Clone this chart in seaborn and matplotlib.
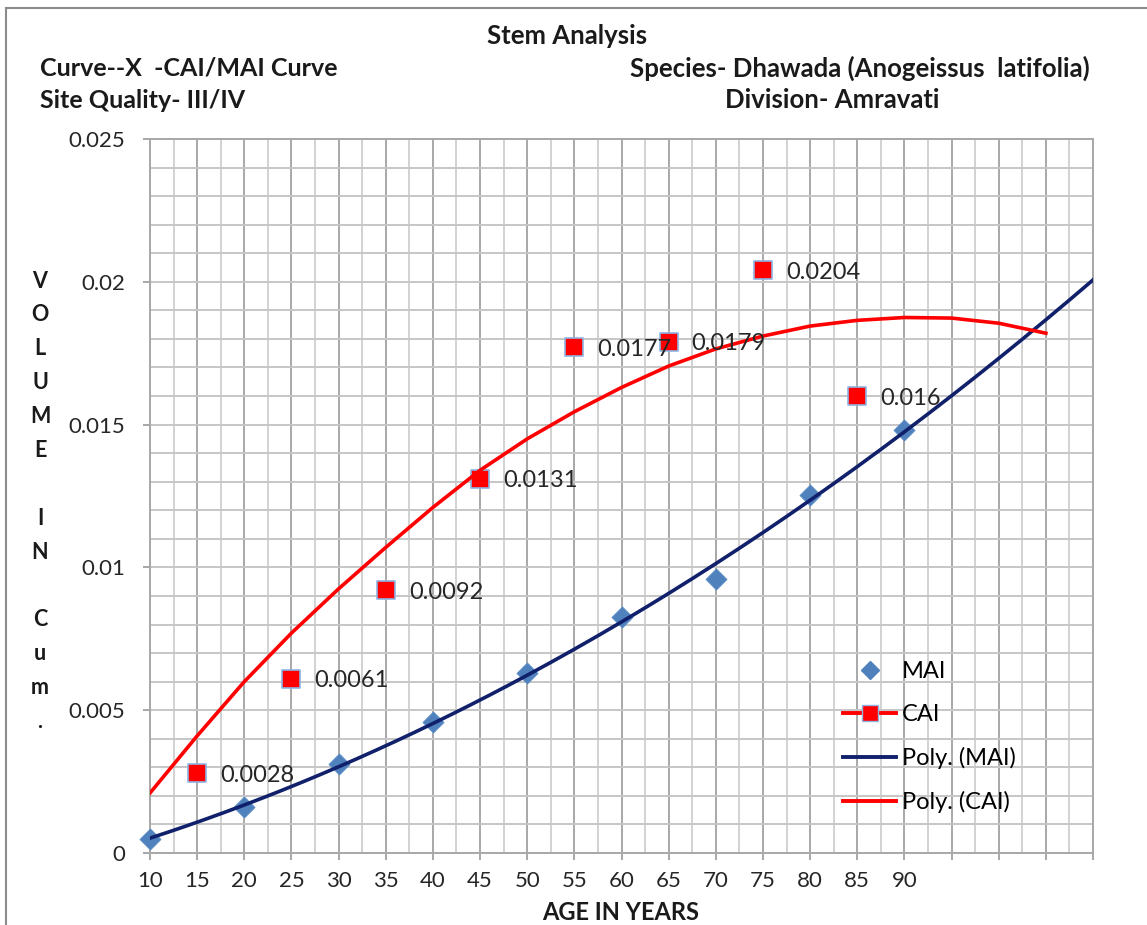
import numpy as np
import matplotlib
matplotlib.use('Agg')
import matplotlib.pyplot as plt
import seaborn as sns
from matplotlib.lines import Line2D

plt.rcParams['font.family'] = ['Lato', 'DejaVu Sans']

# values
mai_age = [10, 20, 30, 40, 50, 60, 70, 80, 90]
mai_vol = [0.0005, 0.0016, 0.0031, 0.0046, 0.0063, 0.00825, 0.0096, 0.01255, 0.0148]

cai_age = [15, 25, 35, 45, 55, 65, 75, 85]
cai_vol = [0.0028, 0.0061, 0.0092, 0.0131, 0.0177, 0.0179, 0.0204, 0.016]
cai_text = ['0.0028', '0.0061', '0.0092', '0.0131', '0.0177', '0.0179', '0.0204', '0.016']

# Poly. (CAI) trend line as drawn in the original, read every 5 years
cai_trend_age = [10, 15, 20, 25, 30, 35, 40, 45, 50, 55, 60, 65, 70, 75, 80, 85, 90, 95, 100, 105]
cai_trend_vol = [0.0021, 0.0041, 0.0060, 0.0077, 0.00925, 0.0107, 0.0121, 0.0134, 0.0145, 0.01545,
                 0.0163, 0.01705, 0.01765, 0.0181, 0.01845, 0.01865, 0.01875, 0.01873, 0.01855, 0.0182]

age_ticks = list(range(10, 115, 5))
age_labels = [str(a) if a <= 90 else '' for a in age_ticks]
vol_ticks = [0, 0.005, 0.01, 0.015, 0.02, 0.025]
vol_labels = ['0', '0.005', '0.01', '0.015', '0.02', '0.025']

W, H = 1147, 925
def fx(x):
    return x / W
def fy(y):
    return 1 - y / H

fig = plt.figure(figsize=(W / 100, H / 100), dpi=100)
ax = fig.add_axes([fx(150), fy(853), fx(1093) - fx(150), fy(139) - fy(853)])

# MAI polynomial trend (order 2, extended to the axis end)
coef = np.polyfit(mai_age, mai_vol, 2)
mai_fit_x = np.linspace(10, 110, 201)
mai_fit_y = np.polyval(coef, mai_fit_x)

navy = '#10206b'
red = '#ff0000'
blue = '#4f81bd'

sns.scatterplot(x=mai_age, y=mai_vol, marker='D', s=115, color=blue, edgecolor='#5b8cc6',
                linewidth=0.6, ax=ax, zorder=3, legend=False, clip_on=False)
sns.scatterplot(x=cai_age, y=cai_vol, marker='s', s=155, color=red, edgecolor='#8db4e2',
                linewidth=1.2, ax=ax, zorder=3, legend=False)
sns.lineplot(x=mai_fit_x, y=mai_fit_y, color=navy, lw=2.6, ax=ax, zorder=4)
sns.lineplot(x=cai_trend_age, y=cai_trend_vol, color=red, lw=2.6, ax=ax, zorder=4)

for a, v, t in zip(cai_age, cai_vol, cai_text):
    ax.annotate(t, (a, v), xytext=(23, -2), textcoords='offset pixels', va='center', ha='left',
                fontsize=17, color='#262626', zorder=5)

ax.set_xlim(10, 110)
ax.set_ylim(0, 0.025)
ax.set_xticks(age_ticks)
ax.set_xticklabels(age_labels)
ax.set_xticks(np.arange(12.5, 110, 5), minor=True)
ax.set_yticks(vol_ticks)
ax.set_yticklabels(vol_labels)
ax.set_yticks(np.arange(0, 0.0251, 0.001), minor=True)

ax.grid(which='major', axis='x', color='#a8a8a8', lw=1.4)
ax.grid(which='minor', axis='x', color='#d2d2d2', lw=1.4)
ax.grid(which='both', axis='y', color='#c6c6c6', lw=1.4)
ax.set_axisbelow(True)
for s in ax.spines.values():
    s.set_color('#a8a8a8')
    s.set_linewidth(1.4)

ax.tick_params(axis='x', which='major', length=5, width=1.4, color='#a8a8a8', pad=8,
               labelsize=16, labelcolor='#262626')
ax.tick_params(axis='y', which='major', length=5, width=1.4, color='#a8a8a8', pad=13,
               labelsize=16, labelcolor='#262626')
ax.tick_params(which='minor', length=0)
ax.set_xlabel('')
ax.set_ylabel('')

# legend
handles = [
    Line2D([], [], marker='D', ls='none', color=blue, markersize=9),
    Line2D([], [], marker='s', color=red, lw=2.8, markersize=11, markeredgecolor='#8db4e2'),
    Line2D([], [], color=navy, lw=2.8),
    Line2D([], [], color=red, lw=2.8),
]
fig.legend(handles, ['MAI', 'CAI', 'Poly. (MAI)', 'Poly. (CAI)'], loc='upper left',
           bbox_to_anchor=(fx(843), fy(661)), frameon=False, fontsize=17, borderpad=0,
           handlelength=2.25, handletextpad=0.25, labelspacing=0.93, borderaxespad=0)

# titles
bold = dict(fontweight='bold', color='#1a1a1a', va='center')
fig.text(fx(567), fy(36), 'Stem Analysis', ha='center', fontsize=18.5, **bold)
fig.text(fx(40), fy(68), 'Curve--X  -CAI/MAI Curve', ha='left', fontsize=18, **bold)
fig.text(fx(40), fy(100), 'Site Quality- III/IV', ha='left', fontsize=18, **bold)
fig.text(fx(1090), fy(68), 'Species- Dhawada (Anogeissus  latifolia)', ha='right', fontsize=18.5, **bold)
fig.text(fx(832), fy(100), 'Division- Amravati', ha='center', fontsize=18.5, **bold)
fig.text(fx(621), fy(912), 'AGE IN YEARS', ha='center', fontsize=17, **bold)

# stacked y label
ylab = ['V', 'O', 'L', 'U', 'M', 'E', '', 'I', 'N', '', 'C', 'u', 'm', '.']
for i, ch in enumerate(ylab):
    fig.text(fx(40), fy(281 + i * 33.9), ch, ha='center', fontsize=15.5, fontweight='bold',
             color='#1a1a1a', va='center')

# chart area border
fig.add_artist(Line2D([fx(6), 1], [fy(8), fy(8)], color='#8c8c8c', lw=1.5))
fig.add_artist(Line2D([fx(6), fx(6)], [fy(8), 0], color='#8c8c8c', lw=1.5))

fig.savefig('out.png', dpi=100)
